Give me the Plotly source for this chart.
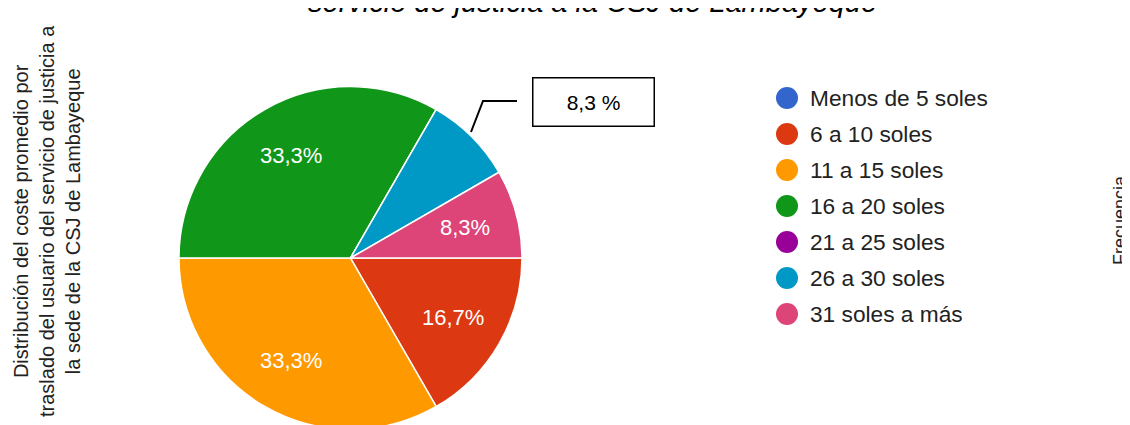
import math
import plotly.graph_objects as go

# categories and counts (12 responses)
categories = ["Menos de 5 soles", "6 a 10 soles", "11 a 15 soles", "16 a 20 soles",
              "21 a 25 soles", "26 a 30 soles", "31 soles a más"]
counts = [0, 2, 4, 4, 0, 1, 1]
colors = ["#3366cc", "#dc3912", "#ff9900", "#109618", "#990099", "#0099c6", "#dd4477"]
# slice that gets its value in the call-out box instead of inside
callout_index = 5

W, H = 1130, 425
OFF = 8  # page body margin of the html output
FONT = "Arial, Liberation Sans, sans-serif"


def px_x(x):
    return (x - OFF) / W


def px_y(y):
    return 1 - (y - OFF) / H


# pie geometry in page pixels
CX, CY, R = 350.5, 258, 171.5
LABEL_R = 0.69 * R

total = sum(counts)

fig = go.Figure()
fig.add_trace(go.Pie(
    labels=categories,
    values=counts,
    sort=False,
    direction="clockwise",
    rotation=90,
    marker=dict(colors=colors, line=dict(color="white", width=1.5)),
    textinfo="none",
    showlegend=False,
    hoverinfo="label+value+percent",
    domain=dict(x=[px_x(CX - R), px_x(CX + R)], y=[px_y(CY + R), px_y(CY - R)]),
))

annotations = []
shapes = []

# percentage labels inside the slices (placed on the slice bisector)
cum = 0
for i, v in enumerate(counts):
    frac = v / total
    if v > 0 and i != callout_index:
        ang = -(cum + frac / 2) * 2 * math.pi  # start at 3 o'clock, clockwise
        lx = CX + LABEL_R * math.cos(ang)
        ly = CY - LABEL_R * math.sin(ang)
        annotations.append(dict(
            text=f"{frac * 100:.1f}%".replace(".", ","),
            x=px_x(lx), y=px_y(ly), xref="paper", yref="paper",
            xanchor="center", yanchor="middle", showarrow=False,
            font=dict(size=22, family=FONT, color="white"),
        ))
    cum += frac

# title (first line falls outside the picture)
annotations.append(dict(
    text="<i>servicio de justicia a la CSJ de Lambayeque</i>",
    x=px_x(592), y=px_y(2), xref="paper", yref="paper",
    xanchor="center", yanchor="middle", showarrow=False,
    font=dict(size=29, family=FONT, color="#000000"),
))

# left axis title
annotations.append(dict(
    text="Distribución del coste promedio por<br>traslado del usuario del servicio de justicia a<br>la sede de la CSJ de Lambayeque",
    x=px_x(47), y=px_y(221), xref="paper", yref="paper",
    xanchor="center", yanchor="middle", showarrow=False, textangle=-90,
    font=dict(size=20, family=FONT, color="#222222"),
))

# right axis title
annotations.append(dict(
    text="Frecuencia",
    x=px_x(1120), y=px_y(220), xref="paper", yref="paper",
    xanchor="center", yanchor="middle", showarrow=False, textangle=-90,
    font=dict(size=18, family=FONT, color="#222222"),
))

# legend
for i, (name, col) in enumerate(zip(categories, colors)):
    cy = 98 + 36 * i
    shapes.append(dict(
        type="circle", xref="paper", yref="paper",
        xsizemode="pixel", ysizemode="pixel",
        xanchor=px_x(787), yanchor=px_y(cy),
        x0=-11, x1=11, y0=-11, y1=11,
        fillcolor=col, line=dict(width=0),
    ))
    annotations.append(dict(
        text=name, x=px_x(808), y=px_y(cy), xref="paper", yref="paper",
        xanchor="left", yanchor="middle", showarrow=False,
        font=dict(size=22.7, family=FONT, color="#222222"),
    ))

# call-out box for the small slice
small_pct = counts[callout_index] / total * 100
annotations.append(dict(
    text=f"{small_pct:.1f} %".replace(".", ","),
    x=px_x(593.5), y=px_y(102), xref="paper", yref="paper",
    xanchor="center", yanchor="middle", showarrow=False,
    width=120, height=47, borderpad=0,
    bordercolor="#000000", borderwidth=1.5, bgcolor="white",
    font=dict(size=21, family=FONT, color="#000000"),
))
shapes.append(dict(
    type="path", xref="paper", yref="paper",
    path=f"M {px_x(471)},{px_y(132)} L {px_x(483)},{px_y(101)} L {px_x(517)},{px_y(101)}",
    line=dict(color="#000000", width=2),
))

fig.update_layout(
    width=W, height=H,
    margin=dict(l=0, r=0, t=0, b=0),
    paper_bgcolor="white", plot_bgcolor="white",
    separators=",.",
    font=dict(family=FONT),
    annotations=annotations,
    shapes=shapes,
)

fig.write_html("out.html")
